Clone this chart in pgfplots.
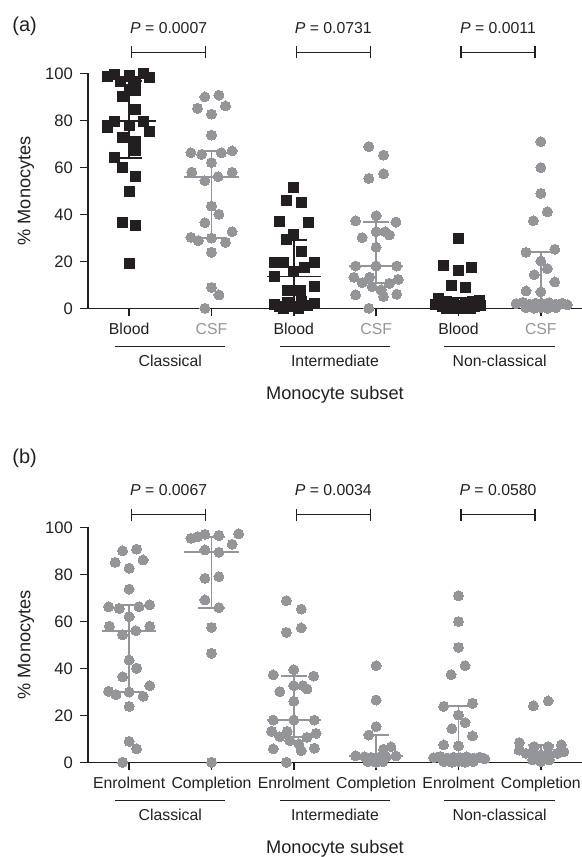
\documentclass[border=0pt]{standalone}
\usepackage{pgfplots}
\pgfplotsset{compat=1.18}
\usepackage{fontspec}
\setmainfont{Liberation Sans}
\definecolor{blk}{HTML}{231F20}
\definecolor{gry}{HTML}{939598}
\newcommand\tickfont{\fontsize{7.9}{9}\selectfont}
\newcommand\numfont{\fontsize{8.3}{9}\selectfont}
\newcommand\labfont{\fontsize{9.1}{11}\selectfont}
\newcommand\panfont{\fontsize{10}{12}\selectfont}
\pgfplotsset{
  panel/.style={
    scale only axis, width=247pt, height=117.5pt,
    xmin=0.5, xmax=6.5, ymin=0, ymax=100,
    axis x line=bottom, axis y line=left,
    axis line style={-, line width=0.75pt, blk},
    clip=false,
    tick align=outside,
    major tick length=4pt,
    tick style={blk, line width=0.75pt},
    ytick={0,20,40,60,80,100},
    xtick={1,2,3,4,5,6},
    yticklabel style={font=\numfont, color=blk},
    xticklabel style={font=\tickfont, color=blk},
    /pgf/number format/assume math mode=true,
    every axis y label/.style={at={([xshift=-31pt]axis description cs:0,0.5)}, rotate=90, anchor=center, font=\labfont, color=blk},
    every axis x label/.style={at={([yshift=-43pt]axis description cs:0.5,0)}, anchor=center, font=\labfont, color=blk},
    ylabel={\% Monocytes}, xlabel={Monocyte subset},
  },
  sq/.style={only marks, mark=square*, mark size=2.5pt, mark options={fill=blk, draw=blk, line width=0pt}},
  ci/.style={only marks, mark=*, mark size=2.5pt, mark options={fill=gry, draw=gry, line width=0pt}},
  iqr/.style={#1, line width=0.9pt, unbounded coords=jump, mark=none},
}
\newcommand\grp[3]{%
  \draw[blk, line width=0.5pt] ([yshift=-19pt]axis cs:#1-0.67,0) -- ([yshift=-19pt]axis cs:#1+0.67,0);
  \node[font=\tickfont, text=blk] at ([yshift=-26.5pt]axis cs:#1,0) {#2};}
\newcommand\brk[4]{%
  \draw[blk, line width=0.75pt] (axis cs:#1+0.03,#3-2.6) -- (axis cs:#1+0.03,#3+2.6)
     (axis cs:#1+0.03,#3) -- (axis cs:#1+0.93,#3)
     (axis cs:#1+0.93,#3-2.6) -- (axis cs:#1+0.93,#3+2.6);
  \node[font=\tickfont, text=blk] at (axis cs:#1+0.48,#3+10.3) {\textit{P} = #2};}
\begin{document}
\begin{tikzpicture}
\path[use as bounding box] (-44pt,-274.35pt) rectangle (247pt,154.15pt);
% ---------------- panel (a)
\begin{axis}[panel, at={(0,0)}, anchor=south west,
  xticklabels={Blood,{\color{gry}CSF},Blood,{\color{gry}CSF},Blood,{\color{gry}CSF}}]
\addplot[sq] table {
x y
0.74 98.6
0.82 99.7
0.90 96.6
1.00 99.0
1.08 96.6
1.17 100.0
1.25 98.3
1.00 93.2
1.08 92.8
0.92 90.0
1.08 84.8
0.82 79.7
1.17 79.7
0.74 76.9
1.00 77.6
1.25 75.2
0.92 72.8
1.08 71.0
1.08 67.2
0.82 64.1
0.92 59.8
1.08 56.0
1.00 49.9
0.92 36.4
1.08 35.4
1.00 18.9
};
\addplot[ci] table {
x y
1.92 90.0
2.09 90.7
1.83 85.1
2.17 86.1
2.00 82.6
2.00 73.7
1.75 66.2
1.88 65.5
2.12 66.2
2.25 67.0
2.00 62.0
1.76 57.9
1.92 54.3
2.08 56.0
2.25 57.9
2.00 43.5
2.09 40.0
1.92 36.4
2.25 32.6
1.75 30.2
1.84 28.8
2.00 29.9
2.17 28.1
2.00 23.8
2.00 8.9
2.09 5.7
1.92 0.0
};
\addplot[sq] table {
x y
3.00 51.3
2.91 45.8
3.09 45.0
2.82 37.0
3.18 36.6
3.00 31.2
2.91 29.1
3.09 24.1
2.76 19.6
2.88 19.4
3.25 19.4
3.13 17.3
3.00 15.6
2.76 13.5
3.25 9.2
2.92 7.5
3.08 7.5
2.76 1.8
2.83 0.7
2.92 2.4
3.00 0.7
3.09 2.8
3.17 1.0
3.25 2.1
2.88 0.0
3.06 0.0
};
\addplot[ci] table {
x y
3.91 68.8
4.09 65.2
3.91 55.3
4.09 57.2
4.00 39.4
3.75 37.2
4.24 36.7
3.83 30.1
4.00 32.6
4.11 32.6
4.16 31.2
4.00 26.0
3.75 18.0
4.00 18.0
4.25 18.0
3.73 13.2
3.92 13.2
3.83 10.9
4.27 12.3
4.16 10.6
3.95 9.2
4.06 7.8
4.09 5.0
3.75 5.7
4.25 6.0
3.91 0.0
};
\addplot[sq] table {
x y
5.00 29.8
4.82 18.4
5.00 16.0
5.16 17.4
4.91 9.9
5.08 8.9
4.76 4.3
4.85 2.8
4.93 2.1
5.00 1.4
5.08 2.1
5.17 2.8
5.25 3.5
4.80 0.7
4.91 0.0
5.00 0.0
5.09 0.0
5.19 0.7
5.27 1.0
4.72 1.5
4.86 0.0
5.14 0.0
4.96 0.6
5.04 0.6
};
\addplot[ci] table {
x y
6.00 70.9
6.00 59.9
6.00 48.9
6.08 41.1
5.91 37.3
5.82 23.8
6.17 25.1
6.00 20.1
6.08 16.9
5.92 14.3
6.17 11.2
5.82 7.4
6.00 7.0
5.70 2.0
5.78 2.5
5.86 1.8
5.94 2.2
6.02 2.0
6.10 2.4
6.18 1.8
6.26 2.2
6.32 1.5
5.82 0.3
5.92 0.0
6.00 0.3
6.08 0.0
6.18 0.3
};
% median and interquartile range
\addplot[iqr=blk] coordinates {(0.67,79.7) (1.33,79.7) (1,nan) (0.84,96.7) (1.16,96.7) (1,nan) (0.84,64.1) (1.16,64.1) (1,nan) (1,64.1) (1,96.7)};
\addplot[iqr=gry] coordinates {(1.67,56.0) (2.33,56.0) (2,nan) (1.84,67.0) (2.16,67.0) (2,nan) (1.84,30.0) (2.16,30.0) (2,nan) (2,30.0) (2,67.0)};
\addplot[iqr=blk] coordinates {(2.67,13.5) (3.33,13.5) (3,nan) (2.84,28.9) (3.16,28.9) (3,nan) (2.84,1.5) (3.16,1.5) (3,nan) (3,1.5) (3,28.9)};
\addplot[iqr=gry] coordinates {(3.67,18.0) (4.33,18.0) (4,nan) (3.84,36.7) (4.16,36.7) (4,nan) (3.84,10.6) (4.16,10.6) (4,nan) (4,10.6) (4,36.7)};
\addplot[iqr=blk] coordinates {(4.67,1.0) (5.33,1.0) (5,nan) (4.84,4.5) (5.16,4.5) (5,nan) (4.84,0.0) (5.16,0.0) (5,nan) (5,0.0) (5,4.5)};
\addplot[iqr=gry] coordinates {(5.67,2.5) (6.33,2.5) (6,nan) (5.84,23.8) (6.16,23.8) (6,nan) (5.84,0.5) (6.16,0.5) (6,nan) (6,0.5) (6,23.8)};
\grp{1.5}{Classical}{}
\grp{3.5}{Intermediate}{}
\grp{5.5}{Non-classical}{}
\brk{1}{0.0007}{108.9}{}
\brk{3}{0.0731}{108.9}{}
\brk{5}{0.0011}{108.9}{}
\node[font=\panfont, text=blk] at (axis cs:-0.27,119.8) {(a)};
\end{axis}
% ---------------- panel (b)
\begin{axis}[panel, at={(0,-227pt)}, anchor=south west,
  xticklabels={Enrolment,Completion,Enrolment,Completion,Enrolment,Completion}]
\addplot[ci] table {
x y
0.92 90.0
1.09 90.7
0.83 85.1
1.17 86.1
1.00 82.6
1.00 73.7
0.75 66.2
0.88 65.5
1.12 66.2
1.25 67.0
1.00 62.0
0.76 57.9
0.92 54.3
1.08 56.0
1.25 57.9
1.00 43.5
1.09 40.0
0.92 36.4
1.25 32.6
0.75 30.2
0.84 28.8
1.00 29.9
1.17 28.1
1.00 23.8
1.00 8.9
1.09 5.7
0.92 0.0
};
\addplot[ci] table {
x y
1.75 95.3
1.83 96.0
1.92 97.0
2.09 96.5
2.33 97.2
2.25 92.8
1.92 90.4
2.09 89.4
1.92 78.3
2.09 79.0
1.92 69.1
2.09 65.8
2.00 57.4
2.00 46.4
2.00 0.0
};
\addplot[ci] table {
x y
2.91 68.8
3.09 65.2
2.91 55.3
3.09 57.2
3.00 39.4
2.75 37.2
3.24 36.7
2.83 30.1
3.00 32.6
3.11 32.6
3.16 31.2
3.00 26.0
2.75 18.0
3.00 18.0
3.25 18.0
2.73 13.2
2.92 13.2
2.83 10.9
3.27 12.3
3.16 10.6
2.95 9.2
3.06 7.8
3.09 5.0
2.75 5.7
3.25 6.0
2.91 0.0
};
\addplot[ci] table {
x y
4.00 41.1
4.00 26.5
4.00 15.2
3.91 11.6
4.09 5.6
4.18 6.6
3.75 2.8
3.86 2.4
3.94 2.1
4.03 2.1
4.12 2.4
4.24 2.7
3.90 0.3
4.00 0.0
4.08 0.3
};
\addplot[ci] table {
x y
5.00 70.9
5.00 59.9
5.00 48.9
5.08 41.1
4.91 37.3
4.82 23.8
5.17 25.1
5.00 20.1
5.08 16.9
4.92 14.3
5.17 11.2
4.82 7.4
5.00 7.0
4.70 2.0
4.78 2.5
4.86 1.8
4.94 2.2
5.02 2.0
5.10 2.4
5.18 1.8
5.26 2.2
5.32 1.5
4.82 0.3
4.92 0.0
5.00 0.3
5.08 0.0
5.18 0.3
};
\addplot[ci] table {
x y
5.91 24.1
6.09 26.1
5.74 8.4
5.92 6.7
6.09 6.7
6.25 7.4
5.74 5.2
5.82 3.8
5.91 3.1
6.00 3.1
6.10 3.1
6.20 3.8
6.28 4.5
5.90 1.0
6.00 0.3
6.10 1.0
};
\addplot[iqr=gry] coordinates {(0.67,56.0) (1.33,56.0) (1,nan) (0.84,67.0) (1.16,67.0) (1,nan) (0.84,30.0) (1.16,30.0) (1,nan) (1,30.0) (1,67.0)};
\addplot[iqr=gry] coordinates {(1.67,89.6) (2.33,89.6) (2,nan) (1.84,96.0) (2.16,96.0) (2,nan) (1.84,65.8) (2.16,65.8) (2,nan) (2,65.8) (2,96.0)};
\addplot[iqr=gry] coordinates {(2.67,18.0) (3.33,18.0) (3,nan) (2.84,36.7) (3.16,36.7) (3,nan) (2.84,10.6) (3.16,10.6) (3,nan) (3,10.6) (3,36.7)};
\addplot[iqr=gry] coordinates {(3.67,2.7) (4.33,2.7) (4,nan) (3.84,11.6) (4.16,11.6) (4,nan) (3.84,0.5) (4.16,0.5) (4,nan) (4,0.5) (4,11.6)};
\addplot[iqr=gry] coordinates {(4.67,2.5) (5.33,2.5) (5,nan) (4.84,23.8) (5.16,23.8) (5,nan) (4.84,0.5) (5.16,0.5) (5,nan) (5,0.5) (5,23.8)};
\addplot[iqr=gry] coordinates {(5.67,3.8) (6.33,3.8) (6,nan) (5.84,7.4) (6.16,7.4) (6,nan) (5.84,1.0) (6.16,1.0) (6,nan) (6,1.0) (6,7.4)};
\grp{1.5}{Classical}{}
\grp{3.5}{Intermediate}{}
\grp{5.5}{Non-classical}{}
\brk{1}{0.0067}{105.4}{}
\brk{3}{0.0034}{105.4}{}
\brk{5}{0.0580}{105.4}{}
\node[font=\panfont, text=blk] at (axis cs:-0.27,129.4) {(b)};
\end{axis}
\end{tikzpicture}
\end{document}
